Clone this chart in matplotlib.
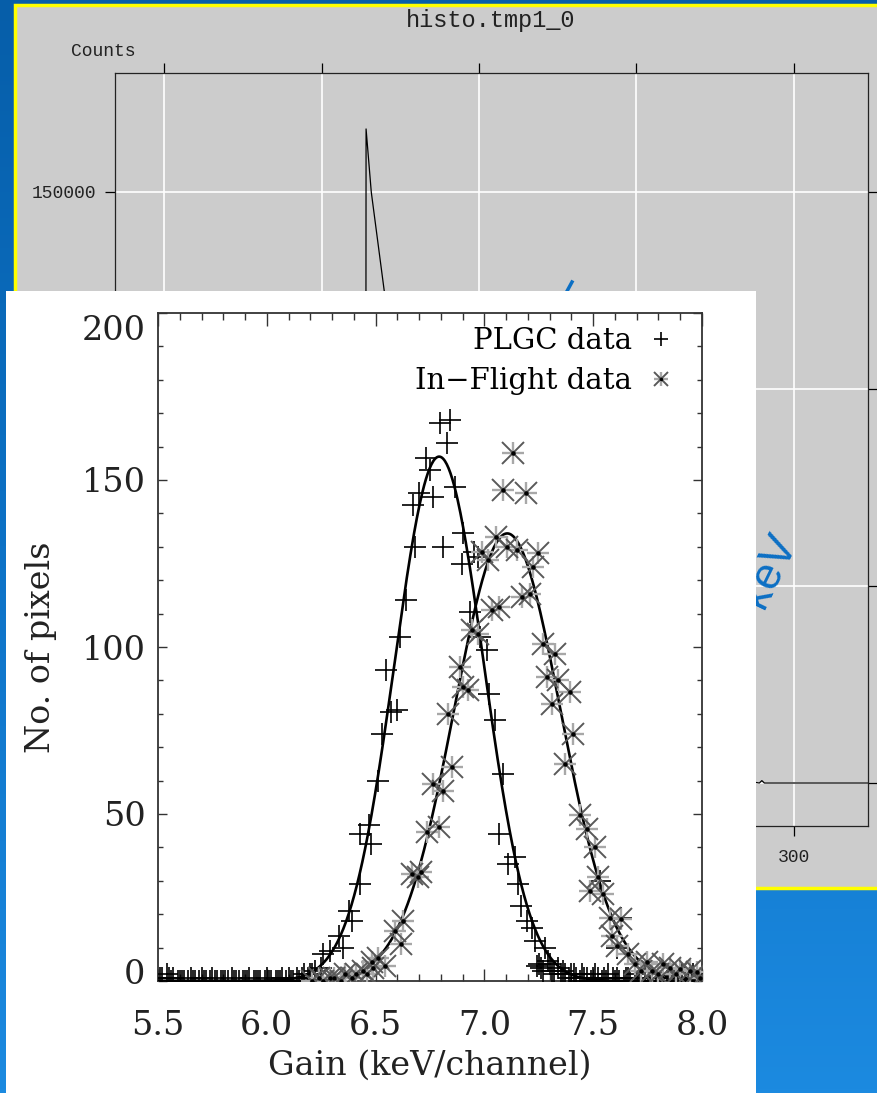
import numpy as np
import matplotlib.pyplot as plt
from matplotlib.patches import Rectangle
from matplotlib.lines import Line2D
from matplotlib.colors import LinearSegmentedColormap
from matplotlib.legend_handler import HandlerTuple
from matplotlib.transforms import ScaledTranslation

W, H = 878, 1093

# ---- gain histogram data ----
plgc_x = [5.51, 5.52, 5.54, 5.55, 5.56, 5.57, 5.59, 5.60, 5.61, 5.62,
          5.64, 5.65, 5.66, 5.67, 5.69, 5.70, 5.71, 5.72, 5.74, 5.75,
          5.76, 5.77, 5.79, 5.80, 5.81, 5.82, 5.84, 5.85, 5.86, 5.87,
          5.89, 5.90, 5.91, 5.92, 5.94, 5.95, 5.96, 5.97, 5.99, 6.00,
          6.01, 6.02, 6.04, 6.05, 6.06, 6.07, 6.09, 6.10, 6.11, 6.12,
          6.14, 6.15, 6.16, 6.17, 6.19, 6.20, 6.21, 6.22, 6.24, 6.25,
          6.26, 6.29, 6.33, 6.35, 6.38, 6.39, 6.43, 6.43, 6.47, 6.48,
          6.51, 6.53, 6.55, 6.57, 6.60, 6.61, 6.64, 6.67, 6.68, 6.70,
          6.73, 6.75, 6.765, 6.795, 6.81, 6.826, 6.843, 6.865, 6.895, 6.903,
          6.934, 6.95, 6.97, 6.98, 7.01, 7.02, 7.05, 7.067, 7.087, 7.11,
          7.14, 7.155, 7.17, 7.194, 7.217, 7.232, 7.24, 7.278,
          7.25, 7.26, 7.27, 7.29, 7.30, 7.31, 7.32, 7.34, 7.35, 7.36,
          7.37, 7.39, 7.40, 7.41, 7.42, 7.44, 7.45, 7.46, 7.47, 7.49,
          7.50, 7.51, 7.52, 7.54, 7.55, 7.56, 7.57, 7.59, 7.60, 7.61,
          7.62, 7.64, 7.65, 7.66, 7.67, 7.69, 7.70, 7.71, 7.72, 7.74,
          7.75, 7.76, 7.77, 7.79, 7.80, 7.81, 7.82, 7.84, 7.85, 7.86,
          7.87, 7.89, 7.90, 7.91, 7.92, 7.94, 7.95, 7.96, 7.97, 7.99,
          7.53, 7.61, 7.63]
plgc_y = [1, 1, 2, 1, 0, 1, 0, 0, 0, 0,
          0, 1, 0, 0, 0, 1, 0, 0, 0, 1,
          0, 0, 0, 0, 0, 0, 1, 0, 0, 0,
          0, 0, 0, 1, 0, 0, 0, 0, 0, 1,
          0, 0, 0, 0, 0, 1, 0, 1, 0, 0,
          1, 0, 1, 2, 1, 2, 2, 3, 1, 4,
          8, 9, 13.6, 10, 21, 18, 29, 44, 46.6, 41,
          60, 74, 93, 80.6, 81, 103, 114, 142.5, 130, 146,
          156.5, 153, 145, 167, 130, 161, 168, 148, 125, 134,
          110.5, 128.5, 127, 103, 99, 86, 78, 44, 62, 35,
          37, 29, 22.6, 18, 16, 12, 4.6, 10,
          5, 4, 3, 6, 5, 3, 2, 4, 2, 3,
          2, 1, 2, 2, 1, 0, 2, 1, 1, 0,
          1, 2, 1, 0, 1, 0, 2, 1, 0, 1,
          0, 0, 1, 1, 0, 2, 0, 1, 0, 1,
          0, 0, 1, 0, 1, 0, 2, 0, 1, 0,
          1, 1, 0, 2, 1, 0, 1, 2, 0, 1,
          30, 10, 19]

flight_x = [6.21, 6.24, 6.26, 6.29, 6.31, 6.34, 6.36, 6.39, 6.41, 6.44,
            6.46, 6.483, 6.49, 6.513, 6.545, 6.589, 6.615, 6.624, 6.668, 6.694,
            6.71, 6.738, 6.765, 6.79, 6.809, 6.835, 6.852, 6.887, 6.903, 6.926,
            6.941, 6.972, 6.988, 7.018, 7.033, 7.053, 7.068, 7.087, 7.105, 7.130,
            7.148, 7.171, 7.191, 7.21, 7.225, 7.247, 7.27, 7.286, 7.31, 7.324,
            7.34, 7.37, 7.393, 7.408, 7.44, 7.47, 7.486, 7.508, 7.524, 7.546,
            7.577, 7.585, 7.608, 7.63, 7.661, 7.692, 7.72, 7.745, 7.77, 7.80,
            7.82, 7.853, 7.88, 7.90, 7.945, 7.975, 7.99]
flight_y = [0, 1, 0, 1, 1, 0, 2, 1, 2, 3,
            2, 5.6, 4, 7, 4.6, 15, 11, 18, 32, 31,
            32.6, 44.6, 59, 46, 57, 80, 64, 94, 88, 87,
            105, 104, 128.5, 126, 111, 133, 112, 147, 130, 158,
            129, 115, 146, 116, 124, 128, 101, 91, 83, 98,
            90, 65, 86.6, 74, 49.6, 45.6, 27, 40, 31, 26,
            19, 13.6, 10.6, 18.6, 8, 5, 3, 5.6, 3, 2,
            5, 4, 2, 3.6, 3, 2.6, 1]

# gaussian fits: amplitude, centre, sigma
plgc_fit = (157.0, 6.792, 0.205)
flight_fit = (134.0, 7.105, 0.244)

gain_ticks = [5.5, 6.0, 6.5, 7.0, 7.5, 8.0]
pixel_ticks = [0, 50, 100, 150, 200]

# ---- the counts window behind ----
hist_ch = [84, 150, 164.0, 164.15, 165.8, 169.9, 175, 185, 200, 230,
           260, 285, 289, 289.8, 290.6, 300, 324]
hist_counts = [0, 0, 0, 166000, 150000, 125000, 95000, 60000, 35000, 12000,
               4000, 500, 0, 600, 0, 0, 0]
win_xticks = [100, 150, 200, 250, 300]
win_xlabels = ['', '', '', '', '300']      # the others sit under the inset
win_yticks = [0, 50000, 100000, 150000]
win_ylabels = ['', '', '', '150000']


def fx(px):
    return px / W


def fy(py):
    return 1 - py / H


fig = plt.figure(figsize=(W / 100, H / 100), dpi=100)

# slide background
bg = fig.add_axes([0, 0, 1, 1], zorder=0)
bg.axis('off')
cmap = LinearSegmentedColormap.from_list('slide', ['#065ea9', '#0d72c6', '#1c8ae0'])
bg.imshow(np.linspace(0, 1, 256).reshape(-1, 1), aspect='auto', cmap=cmap,
          extent=[0, 1, 0, 1], origin='upper')

# grey window
win = Rectangle((fx(15), fy(888)), 1.0, fy(5) - fy(888), transform=fig.transFigure,
                facecolor='#cccccc', edgecolor='#ffff00', lw=2.5, zorder=1)
fig.add_artist(win)

mono = 'Liberation Mono'
gax = fig.add_axes([fx(115), fy(826), fx(868) - fx(115), fy(73) - fy(826)], zorder=2)
gax.set_facecolor('#cccccc')
gax.plot(hist_ch, hist_counts, color='black', lw=0.9)
gax.set_xlim(84.44, 323.5)
gax.set_ylim(-10914, 180203)
gax.set_xticks(win_xticks)
gax.set_xticklabels(win_xlabels)
gax.set_yticks(win_yticks)
gax.set_yticklabels(win_ylabels)
gax.grid(True, color='white', lw=1.2)
gax.set_axisbelow(True)
gax.tick_params(direction='out', length=7.5, width=0.9, top=True, right=True,
                labeltop=False, labelright=False, labelsize=13, labelcolor='#222222')
gax.tick_params(axis='y', pad=6)
gax.tick_params(axis='x', pad=9)
for lab in gax.get_xticklabels() + gax.get_yticklabels():
    lab.set_family(mono)
for s in gax.spines.values():
    s.set_color('#222222')
    s.set_linewidth(0.9)
fig.text(fx(491), fy(21), 'histo.tmp1_0', ha='center', va='center', fontsize=17,
         family=mono, color='#222222', zorder=2)
fig.text(fx(103), fy(51), 'Counts', ha='center', va='center', fontsize=13,
         family=mono, color='#222222', zorder=2)

# slide text peeking out from behind the inset
fig.text(fx(786), fy(536), 'keV', rotation=64, rotation_mode='anchor', ha='right',
         va='center', fontsize=32, color='#0b6fc4', family='Liberation Sans', zorder=3)
fig.add_artist(Line2D([fx(566), fx(572)], [fy(293), fy(282)], transform=fig.transFigure,
                      color='#0b6fc4', lw=2.5, zorder=3))

# white inset
fig.add_artist(Rectangle((fx(6), 0), fx(756) - fx(6), fy(291), transform=fig.transFigure,
                         facecolor='white', edgecolor='none', zorder=4))

# main plot
serif = 'DejaVu Serif'
ax = fig.add_axes([fx(158), fy(981), 544 / W, 668 / H], zorder=5)
ax.set_facecolor('white')

xs = np.linspace(5.5, 8.0, 600)
for amp, mu, sig in (plgc_fit, flight_fit):
    ax.plot(xs, amp * np.exp(-0.5 * ((xs - mu) / sig) ** 2), color='black', lw=1.9, zorder=3)

h_plus, = ax.plot(plgc_x, plgc_y, ls='none', marker='+', ms=16, mew=1.2,
                  color='black', zorder=4)
h_fp, = ax.plot(flight_x, flight_y, ls='none', marker='+', ms=16, mew=1.7,
                color='#a8a8a8', zorder=4)
h_fx, = ax.plot(flight_x, flight_y, ls='none', marker='x', ms=16, mew=1.4,
                color='#595959', zorder=5)
h_dot, = ax.plot(flight_x, flight_y, ls='none', marker='o', ms=2.2,
                 color='black', zorder=6)

leg = ax.legend([h_plus, (h_fp, h_fx, h_dot)], ['PLGC data', 'In\u2212Flight data'],
                handler_map={tuple: HandlerTuple(ndivide=1)}, markerfirst=False,
                frameon=False, loc='upper right', bbox_to_anchor=(1.0, 1.018),
                markerscale=0.65, handlelength=1.0, handletextpad=0.5,
                labelspacing=0.42, borderpad=0.4, borderaxespad=0.5,
                prop={'family': serif, 'size': 21})

ax.set_xlim(5.5, 8.0)
ax.set_ylim(0, 200)
ax.set_xticks(gain_ticks)
ax.set_xticklabels(['%.1f' % v for v in gain_ticks])
ax.set_xticks(np.arange(5.5, 8.01, 0.1), minor=True)
ax.set_yticks(pixel_ticks)
ax.set_yticks(np.arange(0, 201, 10), minor=True)
ax.tick_params(which='both', direction='in', top=True, right=True, width=1.0,
               color='#333333', labelsize=24)
ax.xaxis.set_tick_params(which='major', length=9, pad=21)
ax.xaxis.set_tick_params(which='minor', length=5)
ax.yaxis.set_tick_params(which='major', length=6.5, pad=9)
ax.yaxis.set_tick_params(which='minor', length=3.6)
for lab in ax.get_xticklabels() + ax.get_yticklabels():
    lab.set_family(serif)
    lab.set_color('#222222')
ylabs = ax.get_yticklabels()
ylabs[0].set_transform(ylabs[0].get_transform() + ScaledTranslation(0, 0.10, fig.dpi_scale_trans))
ylabs[-1].set_transform(ylabs[-1].get_transform() + ScaledTranslation(0, -0.14, fig.dpi_scale_trans))
for s in ax.spines.values():
    s.set_color('#333333')
    s.set_linewidth(1.3)

ax.set_xlabel('Gain (keV/channel)', fontsize=24, family=serif, color='#222222')
ax.set_ylabel('No. of pixels', fontsize=24, family=serif, color='#222222')
ax.xaxis.set_label_coords(0.5, -0.103)
ax.yaxis.set_label_coords(-0.185, 0.5)

fig.savefig('out.png', dpi=100)
